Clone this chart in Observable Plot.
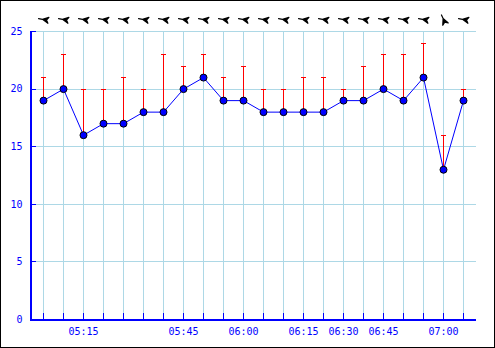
<!DOCTYPE html>
<html>
<head>
<meta charset="utf-8">
<script src="https://cdn.jsdelivr.net/npm/d3@7"></script>
<script src="https://cdn.jsdelivr.net/npm/@observablehq/plot@0.6"></script>
<style>
  body { margin: 0; background: #fff; }
  #chart { width: 493px; height: 346px; border: 1px solid black; overflow: hidden; }
  #chart svg { display: block; }
</style>
</head>
<body>
<div id="chart"></div>
<script>
const timeLabels = ["", "", "05:15", "", "", "", "", "05:45", "", "", "06:00", "", "", "06:15", "", "06:30", "", "06:45", "", "", "07:00", ""];
const speed = [19, 20, 16, 17, 17, 18, 18, 20, 21, 19, 19, 18, 18, 18, 18, 19, 19, 20, 19, 21, 13, 19];
const gust  = [21, 23, 20, 20, 21, 20, 23, 22, 23, 21, 22, 20, 20, 21, 21, 20, 22, 23, 23, 24, 16, 20];
const direction = [280, 280, 280, 280, 280, 280, 280, 280, 280, 280, 280, 280, 280, 280, 280, 280, 280, 280, 280, 280, 336, 280];
const yTicks = [0, 5, 10, 15, 20, 25];

const data = speed.map((s, i) => ({i, speed: s, gust: gust[i], dir: direction[i]}));
const idx = data.map(d => d.i);

const windArrow = {
  draw(context, l) {
    context.moveTo(0, -l);
    context.lineTo(0, -l + 4);
    context.moveTo(0, -l + 4);
    context.lineTo(3, 0);
    context.lineTo(0, -2);
    context.lineTo(-3, 0);
    context.closePath();
  }
};

const crisp = {shapeRendering: "crispEdges"};
const W = 493, H = 346;
const plot = Plot.plot({
  width: W,
  height: H,
  marginLeft: 29,
  marginRight: 18,
  marginTop: 30,
  marginBottom: 28,
  style: {fontFamily: "DejaVu Sans Mono", fontSize: "10px", background: "white"},
  x: {type: "point", domain: idx, padding: 0.5},
  y: {domain: [0, 25]},
  marks: [
    Plot.ruleX(idx, {x: d => d, stroke: "#add8e6", strokeWidth: 1, ...crisp}),
    Plot.ruleY(yTicks.filter(t => t > 0), {y: d => d, stroke: "#add8e6", strokeWidth: 1, ...crisp}),
    Plot.ruleY([0], {y: d => d, stroke: "blue", strokeWidth: 2, ...crisp}),
    Plot.frame({anchor: "left", stroke: "blue", strokeWidth: 2, ...crisp}),
    Plot.ruleY(yTicks, {y: d => d, stroke: "blue", insetRight: 440, ...crisp}),
    Plot.ruleX(idx, {x: d => d, stroke: "blue", insetTop: 282, ...crisp}),
    Plot.axisY({ticks: yTicks, tickSize: 0, tickPadding: 8, fill: "blue", label: null}),
    Plot.axisX({tickFormat: i => timeLabels[i], tickSize: 0, tickPadding: 8, fill: "blue", label: null}),
    Plot.ruleX(data, {x: "i", y1: "speed", y2: "gust", stroke: "red", strokeWidth: 1, ...crisp}),
    Plot.ruleY(data, {x1: "i", x2: "i", y: "gust", stroke: "red", strokeWidth: 1, insetLeft: -2.5, insetRight: -2.5, ...crisp}),
    Plot.line(data, {x: "i", y: "speed", stroke: "blue", strokeWidth: 1}),
    Plot.dot(data, {x: "i", y: "speed", r: 3.5, fill: "blue", stroke: "black", strokeWidth: 1}),
    Plot.vector(data, {x: "i", frameAnchor: "top", dy: -12, rotate: "dir", length: 10, anchor: "middle", shape: windArrow, fill: "black", stroke: "black", strokeWidth: 1.2})
  ]
});
document.getElementById("chart").appendChild(plot);
</script>
</body>
</html>
